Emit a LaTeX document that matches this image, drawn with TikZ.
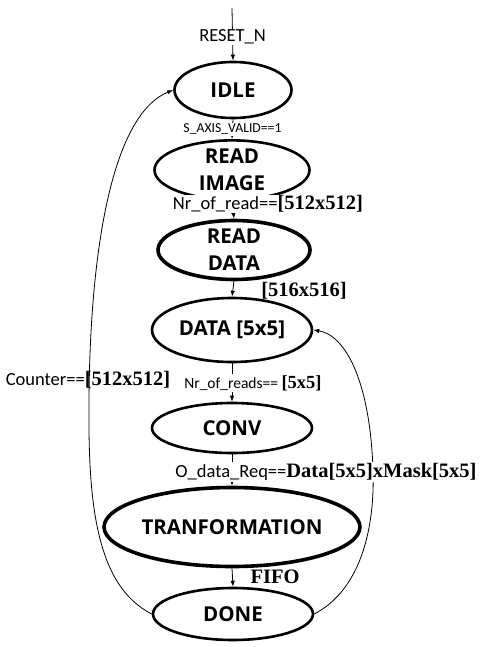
\documentclass[tikz,border=0pt]{standalone}
\usepackage{fontspec}
\usetikzlibrary{shapes.geometric,arrows.meta}
\newfontfamily\nodefnt{Open Sans}
\newfontfamily\lblfnt{Carlito}
\newfontfamily\serfnt{Liberation Serif}
\newcommand{\sbr}[1]{{\serfnt\bfseries\fontsize{20.5}{22}\selectfont #1}}
\begin{document}
\begin{tikzpicture}[x=1pt,y=-1pt,
  state/.style={ellipse,draw,line width=2.6pt,inner sep=0pt,align=center,
    font=\nodefnt\bfseries\fontsize{20.5}{27}\selectfont},
  thickstate/.style={state,line width=3.6pt},
  conn/.style={line width=0.8pt,-{Latex[length=6pt,width=4.5pt]}},
  lbl/.style={font=\lblfnt\fontsize{18.5}{20}\selectfont,inner sep=1pt},
  slbl/.style={font=\lblfnt\fontsize{13.7}{15}\selectfont,inner sep=1pt},
  wlbl/.style={lbl,fill=white}]
\useasboundingbox (0,0) rectangle (480,647);
\node[state,minimum width=117pt,minimum height=56pt] (idle) at (233,90) {IDLE};
\node[state,minimum width=155pt,minimum height=50pt] (rimg) at (232,170) {READ\\IMAGE};
\node[thickstate,minimum width=152pt,minimum height=55pt] (rdat) at (234,250) {READ\\DATA};
\node[state,minimum width=160pt,minimum height=64pt] (data) at (232,330) {DATA [5x5]};
\node[state,minimum width=160pt,minimum height=50pt] (conv) at (232,428) {CONV};
\node[thickstate,minimum width=201pt,minimum height=79pt] (tran) at (232,527) {TRANFORMATION};
\node[state,minimum width=160pt,minimum height=52pt] (done) at (233,614) {DONE};
\coordinate (start) at (232,8);
% straight transitions
\draw[conn] (start) -- (idle.north) node[wlbl,pos=0.55] {RESET\_N};
\draw[conn] (idle.south) -- (rimg.north) node[slbl,fill=white,midway] {S\_AXIS\_VALID==1};
\draw[conn] (rimg.south) -- (rdat.north);
\node[wlbl] (l2) at (268,204) {Nr\_of\_read==\sbr{[512x512]}};
\draw[conn] (rdat.south) -- (data.north);
\node[lbl] (l3) at (304,291) {\sbr{[516x516]}};
\draw[conn] (data.south) -- (conv.north);
\node[wlbl,font=\lblfnt\fontsize{15.5}{17}\selectfont] (l4) at (253,383)
  {Nr\_of\_reads== {\serfnt\bfseries\fontsize{18.5}{20}\selectfont[5x5]}};
\draw[conn] (conv.south) -- (tran.north);
\draw[conn] (tran.south) -- (done.north);
\node[lbl] (l6) at (275,577) {\sbr{FIFO}};
% loops
\draw[conn] (done.west) .. controls (95,585) and (88,500) .. (89,400)
  .. controls (90,250) and (112,115) .. (idle.west);
\draw[conn] (done.east) .. controls (360,590) and (375,530) .. (373,470)
  .. controls (370,380) and (345,335) .. (data.east);
\node[lbl] (l7) at (88,380) {Counter==\sbr{[512x512]}};
\node[wlbl] (l5) at (326,472) {O\_data\_Req==\sbr{Data[5x5]xMask[5x5]}};
\end{tikzpicture}
\end{document}
